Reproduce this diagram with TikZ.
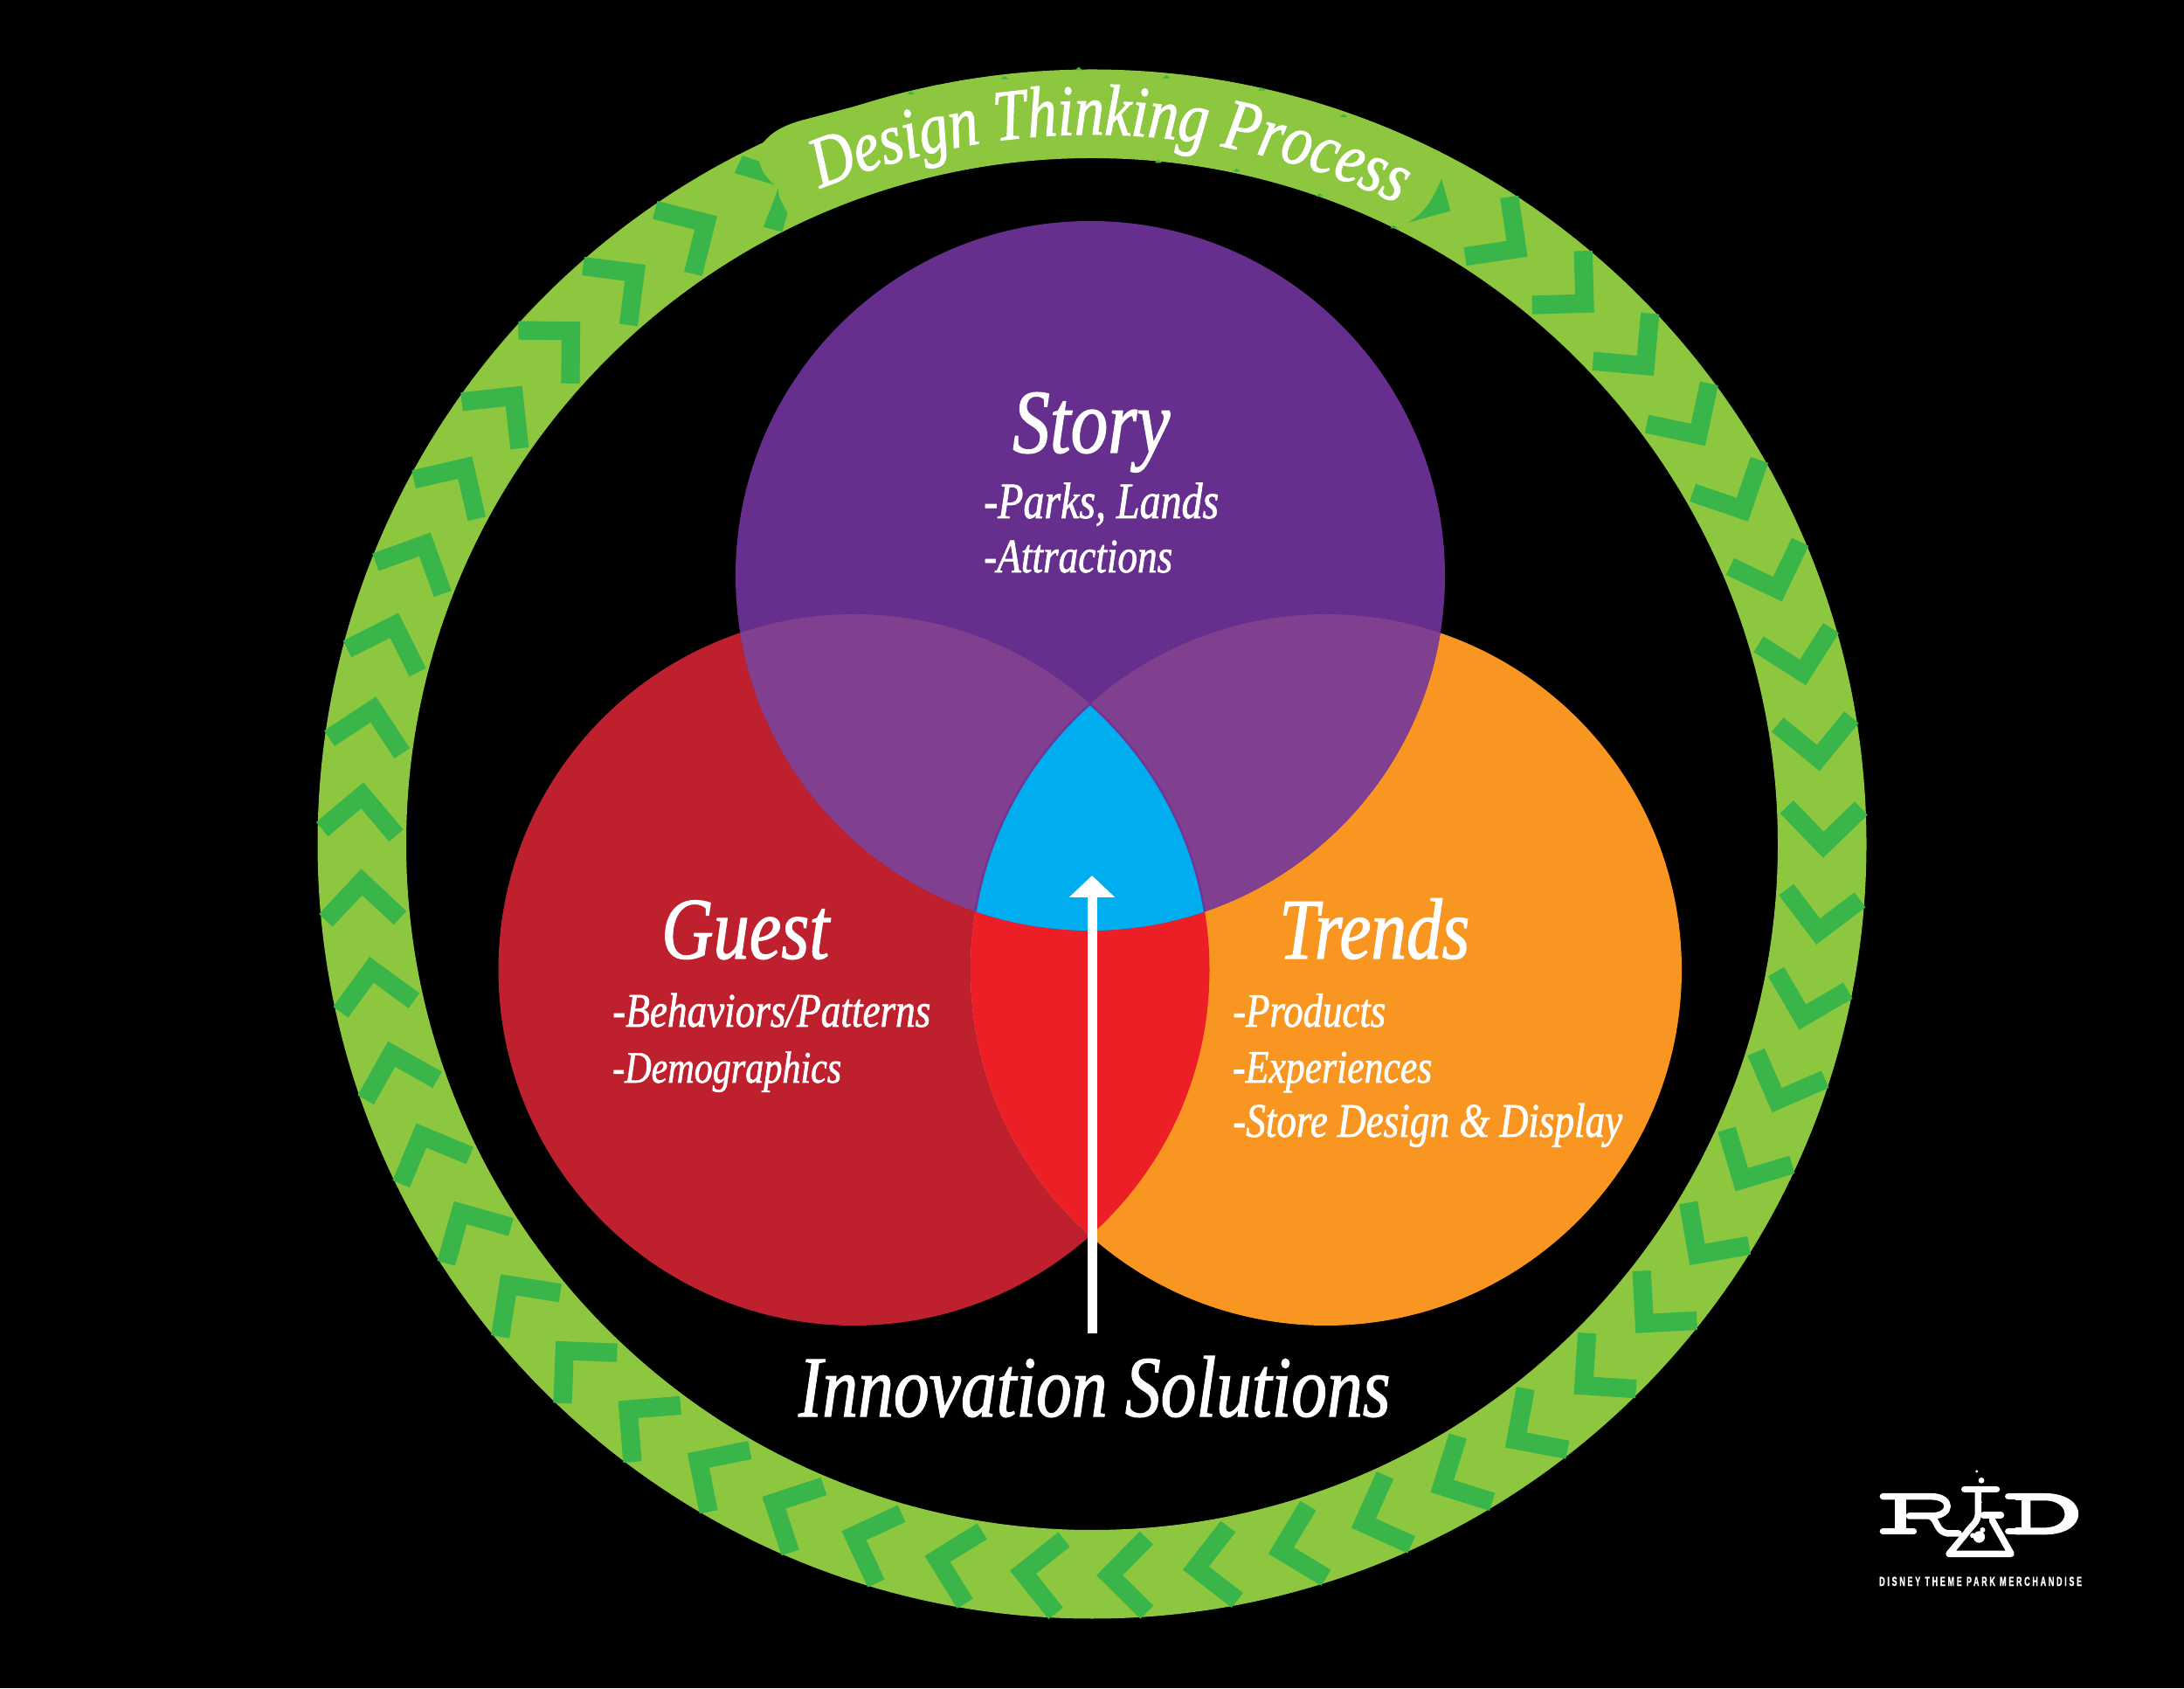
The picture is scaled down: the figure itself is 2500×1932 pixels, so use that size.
\documentclass[tikz,border=0pt]{standalone}
\usepackage{fontspec}
\usetikzlibrary{arrows.meta,decorations.text}
\newfontfamily\scrf[ItalicFeatures={FakeBold=1.2,FakeStretch=0.82}]{Liberation Serif}
\newfontfamily\capf[BoldFeatures={FakeStretch=0.6,LetterSpace=18,FakeBold=0.8}]{Liberation Sans}
\newdimen\pxu \pxu=0.04cm
\newcommand\fit[2]{\resizebox{#1\pxu}{!}{\scrf\itshape #2}}
\newcommand\curvefont{\fontsize{94}{94}\selectfont\scrf\itshape}
\definecolor{ringgreen}{HTML}{8DC63F}
\definecolor{chevgreen}{HTML}{39B54A}
\definecolor{storyc}{HTML}{662F8E}
\definecolor{guestc}{HTML}{BE202E}
\definecolor{trendc}{HTML}{F99621}
\definecolor{overlapc}{HTML}{80408F}
\definecolor{lensc}{HTML}{ED1F26}
\definecolor{corec}{HTML}{00AEEF}
\definecolor{coreline}{HTML}{6E3796}
\tikzset{
  chev/.style={fill=chevgreen},
  label/.style={text=white,inner sep=0pt,anchor=base west},
  logoline/.style={draw=white,line width=0.3cm,line cap=round,line join=round},
}
\begin{document}
\begin{tikzpicture}[x=0.04cm,y=0.04cm]
\useasboundingbox (0,0) rectangle (2500,1932);
\fill[black] (0,0) rectangle (2500,1932);
% named centres
\coordinate (rc) at (1250,966);
\coordinate (sc) at (1248,1273);
\coordinate (gc) at (977.5,822);
\coordinate (tc) at (1518,822);
% ring
\fill[ringgreen,even odd rule] (rc) circle[radius=886.5] (rc) circle[radius=785];
% chevrons
\foreach \k in {0,...,52}{
  \ifnum\k<10 \def\show{1}\else\ifnum\k>18 \def\show{2}\else\def\show{0}\fi\fi
  \ifnum\show=1
    \pgfmathsetmacro\a{181.95-6.79*\k}
    \fill[chev,shift={(rc)},rotate=\a] (837,0)--(887,50)--(872,65)--(837,30)--(802,65)--(787,50)--cycle;
  \fi
  \ifnum\show=2
    \pgfmathsetmacro\a{181.95-6.79*\k+0.5*max(0,39-\k)/20}
    \fill[chev,shift={(rc)},rotate=\a] (837,0)--(887,50)--(872,65)--(837,30)--(802,65)--(787,50)--cycle;
  \fi
}
% banner bulge, partial chevrons, specks (reference crop coordinates)
\begin{scope}[shift={(31.2cm,74.88cm)},x=0.02424cm,y=-0.013333cm]
  \fill[ringgreen] (150,318) .. controls (165,290) and (175,262) .. (225,235) -- (340,180) .. controls (370,165) and (400,150) .. (440,135) -- (500,260) -- (200,400) -- cycle;
  \fill[chev] (100,415) -- (115,355) -- (147,375) .. controls (150,410) and (160,430) .. (175,455) -- cycle;
  \fill[chev] (183,465) .. controls (180,500) and (195,530) .. (200,555) -- (190,617) -- (155,600) -- cycle;
  \fill[chev] (1372,585) .. controls (1405,550) and (1420,500) .. (1435,435) -- (1452,545) -- cycle;
  \foreach \x/\y in {750/57,610/88,433/140,915/85,1095/127,1250/218,900/375,1048/405,1205/490,1345/600}
    \fill[chev] (\x-7,\y+5) -- (\x,\y-6) -- (\x+7,\y+5) -- cycle;
\end{scope}
% circles
\fill[guestc] (gc) circle[radius=407];
\fill[trendc] (tc) circle[radius=407];
\begin{scope}
  \clip (gc) circle[radius=407];
  \fill[lensc] (tc) circle[radius=407];
\end{scope}
\fill[storyc] (sc) circle[radius=406];
\begin{scope}
  \clip (sc) circle[radius=406];
  \fill[overlapc] (gc) circle[radius=407];
  \fill[overlapc] (tc) circle[radius=407];
  \begin{scope}
    \clip (gc) circle[radius=407];
    \fill[corec] (tc) circle[radius=407];
    \draw[coreline,line width=0.1cm] (tc) circle[radius=407];
  \end{scope}
  \begin{scope}
    \clip (tc) circle[radius=407];
    \draw[coreline,line width=0.1cm] (gc) circle[radius=407];
  \end{scope}
\end{scope}
% text
\node[label] (storyt) at (1159,1414) {\fit{180}{Story}};
\node[label] (s1) at (1126,1339) {\fit{269}{-Parks, Lands}};
\node[label] (s2) at (1126,1277) {\fit{216}{-Attractions}};
\node[label] (guestt) at (757,835) {\fit{192}{Guest}};
\node[label] (g1) at (701,757) {\fit{364}{-Behaviors/Patterns}};
\node[label] (g2) at (701,693) {\fit{262}{-Demographics}};
\node[label] (trendt) at (1464,835) {\fit{218}{Trends}};
\node[label] (t1) at (1411,757) {\fit{175}{-Products}};
\node[label] (t2) at (1411,693) {\fit{228}{-Experiences}};
\node[label] (t3) at (1411,631) {\fit{446}{-Store Design \& Display}};
\node[label] (innov) at (914,311) {\fit{677}{Innovation Solutions}};
% arrow
\coordinate (arrowfoot) at (1250,406);
\coordinate (arrowtip) at (1250,930);
\draw[white,line width=0.44cm,-{Triangle[length=1cm,width=2.04cm]}] (arrowfoot) -- (arrowtip);
% curved title
\path[decorate,decoration={text along path,text align=center,
  text={|\curvefont\color{white}|Design Thinking Process}}]
  (rc) ++(116:812) arc[start angle=116,end angle=61,radius=812];
% logo (crop coordinates)
\begin{scope}[shift={(84cm,10.88cm)},x=0.013333cm,y=-0.013333cm]
  \draw[logoline] (165,158) -- (330,158) .. controls (405,158) and (405,225) .. (330,225) -- (255,225);
  \draw[logoline] (165,278) -- (270,278);
  \fill[white] (205,158) rectangle (245,278);
  \draw[logoline] (325,225) .. controls (355,235) and (345,285) .. (395,285) -- (425,285);
  \draw[logoline] (445,133) -- (555,133);
  \draw[logoline] (492,133) -- (492,215) .. controls (490,250) and (470,255) .. (450,285) -- (392,355) -- (605,355) -- (540,240);
  \draw[logoline] (510,222) -- (570,222);
  \draw[logoline] (595,158) -- (640,158);
  \draw[logoline] (595,278) -- (640,278);
  \fill[white,even odd rule] (620,147) -- (720,147) .. controls (875,147) and (875,289) .. (720,289) -- (620,289) -- cycle
     (672,172) -- (720,172) .. controls (812,172) and (812,265) .. (720,265) -- (672,265) -- cycle;
  \fill[black] (620,172) rectangle (640,265);
  \fill[white] (495,297) circle[radius=20] (473,292) circle[radius=9] (507,273) circle[radius=9];
  \fill[white] (503,103) circle[radius=10] (487,72) circle[radius=5] (500,178) circle[radius=5];
\end{scope}
\node[text=white,inner sep=0pt,anchor=base west] (logotext) at (2151,117) {\resizebox{232\pxu}{!}{\capf\bfseries DISNEY THEME PARK MERCHANDISE}};
\end{tikzpicture}
\end{document}
